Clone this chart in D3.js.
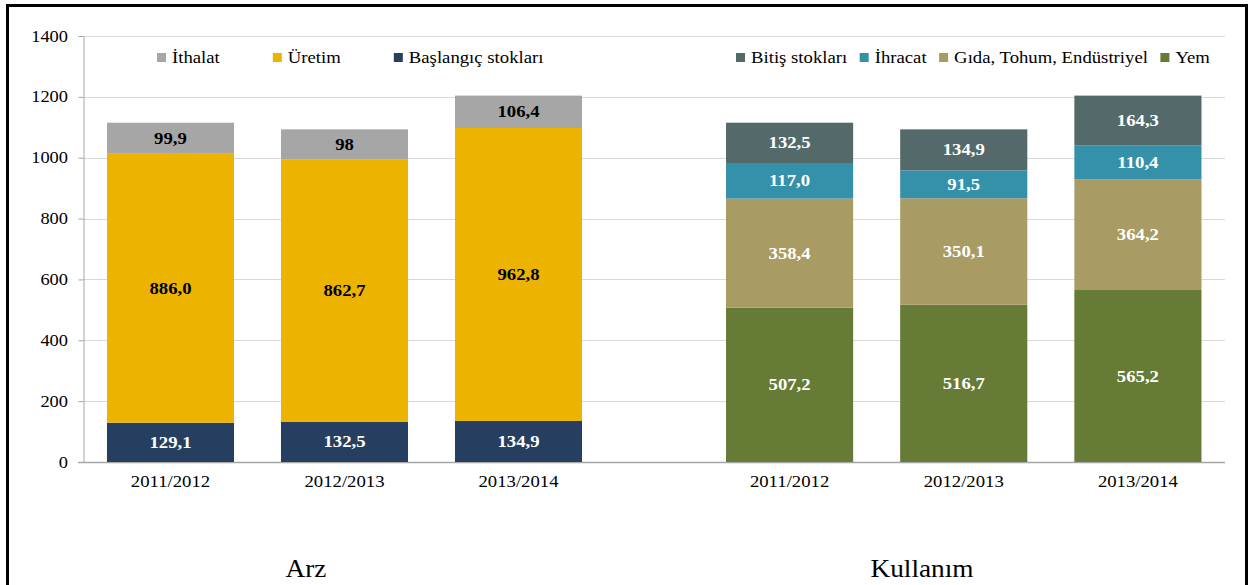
<!DOCTYPE html>
<html><head><meta charset="utf-8">
<script src="https://cdn.jsdelivr.net/npm/d3@7"></script>
<style>
html,body{margin:0;padding:0;background:#fff;}
svg{display:block;font-family:"Liberation Serif","Times New Roman",serif;}
</style></head>
<body>
<svg id="c" width="1249" height="585"></svg>
<script>
// ---- data ----
const years = ["2011/2012","2012/2013","2013/2014"];
// Arz (supply)
const baslangicStoklari = [129.1, 132.5, 134.9];
const uretim = [886.0, 862.7, 962.8];
const ithalat = [99.9, 98, 106.4];
// Kullanım (use)
const yem = [507.2, 516.7, 565.2];
const gidaTohumEndustriyel = [358.4, 350.1, 364.2];
const ihracat = [117.0, 91.5, 110.4];
const bitisStoklari = [132.5, 134.9, 164.3];
const yTicks = [0, 200, 400, 600, 800, 1000, 1200, 1400];
const panelTitles = ["Arz", "Kullanım"];

// ---- series config ----
const loc = d3.formatLocale({decimal: ",", thousands: ".", grouping: [3], currency: ["", ""]});
const fFixed = loc.format(".1f");
const fTrim = loc.format(".1~f");

const leftSeries = [
  {name: "Başlangıç stokları", values: baslangicStoklari, color: "#263f60", text: "#ffffff", fmt: fFixed},
  {name: "Üretim", values: uretim, color: "#ecb400", text: "#000000", fmt: fFixed},
  {name: "İthalat", values: ithalat, color: "#a6a6a6", text: "#000000", fmt: fTrim}
];
const rightSeries = [
  {name: "Yem", values: yem, color: "#667b35", text: "#ffffff", fmt: fFixed},
  {name: "Gıda, Tohum, Endüstriyel", values: gidaTohumEndustriyel, color: "#a89b64", text: "#ffffff", fmt: fFixed},
  {name: "İhracat", values: ihracat, color: "#3590aa", text: "#ffffff", fmt: fFixed},
  {name: "Bitiş stokları", values: bitisStoklari, color: "#546a6a", text: "#ffffff", fmt: fFixed}
];

const svg = d3.select("#c");
const SX = 1.17; // horizontal stretch of the source text

function stext(g, x, y, str, opts) {
  opts = opts || {};
  const t = g.append("text")
    .attr("transform", `translate(${x},${y}) scale(${opts.sx || SX},1)`)
    .attr("text-anchor", opts.anchor || "middle")
    .attr("font-size", opts.size || 16)
    .attr("font-weight", opts.weight || "normal")
    .attr("fill", opts.fill || "#000")
    .text(str);
  if (opts.dy) t.attr("dy", opts.dy);
  return t;
}

// outer frame
svg.append("rect").attr("x", 7.5).attr("y", 5.5).attr("width", 1239).attr("height", 620)
  .attr("fill", "none").attr("stroke", "#000").attr("stroke-width", 3);

// ---- scales ----
const y = d3.scaleLinear().domain([0, 1400]).range([462, 36]);
const xL = d3.scaleBand().domain(years).range([83.5, 605.5]).paddingInner(0.27).paddingOuter(0.135);
const xR = d3.scaleBand().domain(years).range([702.5, 1225]).paddingInner(0.27).paddingOuter(0.135);
const plotX0 = 83, plotX1 = 1225;

// gridlines
svg.append("g").selectAll("line").data(yTicks.filter(d => d > 0)).join("line")
  .attr("x1", plotX0).attr("x2", plotX1)
  .attr("y1", d => Math.round(y(d)) + 0.5).attr("y2", d => Math.round(y(d)) + 0.5)
  .attr("stroke", "#d9d9d9").attr("stroke-width", 1);

// y axis
const yAxis = svg.append("g").attr("transform", `translate(${plotX0 + 0.5},0)`)
  .call(d3.axisLeft(y).tickValues(yTicks).tickSize(5).tickSizeOuter(0).tickFormat(""));
yAxis.select(".domain").attr("stroke", "#a6a6a6");
yAxis.selectAll(".tick line").attr("stroke", "#a6a6a6");
yTicks.forEach(v => stext(svg, 68, y(v), String(v), {anchor: "end", dy: "0.35em", sx: 1.15}));

// x baseline
svg.append("line").attr("x1", plotX0 - 5).attr("x2", plotX1)
  .attr("y1", y(0) + 0.5).attr("y2", y(0) + 0.5).attr("stroke", "#a6a6a6").attr("stroke-width", 1.5);

function drawPanel(series, x) {
  const stack = d3.stack().keys(d3.range(series.length)).value((d, k) => series[k].values[d]);
  const layers = stack(d3.range(years.length));
  const g = svg.append("g");
  layers.forEach((layer, k) => {
    const s = series[k];
    g.append("g").selectAll("rect").data(layer).join("rect")
      .attr("x", (d, i) => x(years[i]))
      .attr("width", x.bandwidth())
      .attr("y", d => y(d[1]))
      .attr("height", d => y(d[0]) - y(d[1]))
      .attr("fill", s.color);
    layer.forEach((d, i) => {
      stext(g, x(years[i]) + x.bandwidth() / 2, (y(d[0]) + y(d[1])) / 2, s.fmt(s.values[i]),
        {weight: "bold", fill: s.text, dy: "0.35em"});
    });
  });
  years.forEach(yr => stext(svg, x(yr) + x.bandwidth() / 2, 487, yr));
}
drawPanel(leftSeries, xL);
drawPanel(rightSeries, xR);

// legends
function legend(items, x0, gap) {
  let x = x0;
  items.forEach(s => {
    svg.append("rect").attr("x", x).attr("y", 53).attr("width", 9).attr("height", 9).attr("fill", s.color);
    const t = stext(svg, x + 15, 63, s.name, {anchor: "start"});
    const w = t.node().getComputedTextLength() * SX;
    x = x + 15 + w + gap;
  });
}
legend(leftSeries.slice().reverse(), 157, 53);
legend(rightSeries.slice().reverse(), 736, 12.5);

// panel titles
stext(svg, 306, 577, panelTitles[0], {size: 26, sx: 1.05});
stext(svg, 922, 577, panelTitles[1], {size: 26, sx: 1.05});
</script>
</body></html>
